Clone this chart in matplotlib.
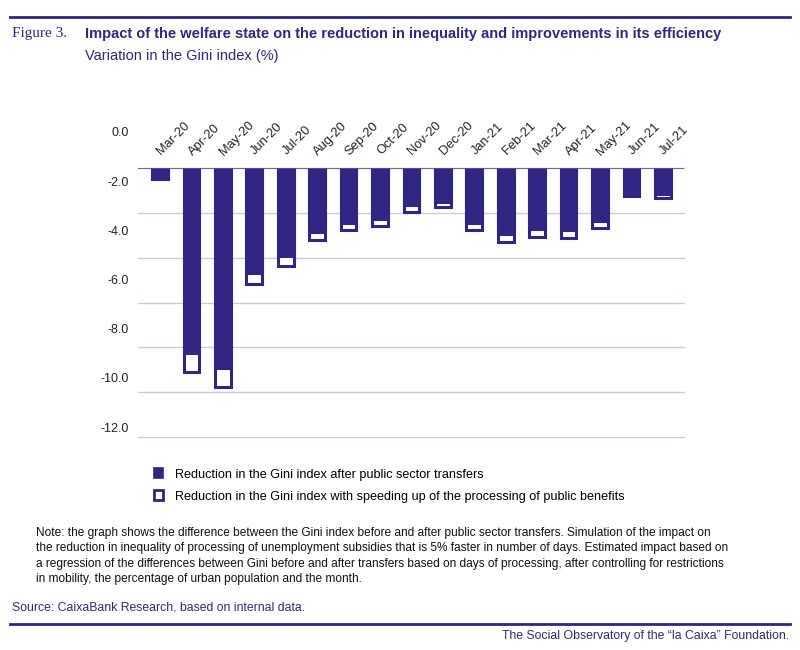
import matplotlib
matplotlib.use("Agg")
from matplotlib import pyplot as plt
from matplotlib.patches import Patch
from matplotlib.transforms import ScaledTranslation

months = ['Mar-20', 'Apr-20', 'May-20', 'Jun-20', 'Jul-20', 'Aug-20', 'Sep-20',
          'Oct-20', 'Nov-20', 'Dec-20', 'Jan-21', 'Feb-21', 'Mar-21', 'Apr-21',
          'May-21', 'Jun-21', 'Jul-21']
after_transfers = [-0.44, -8.26, -8.93, -4.68, -3.92, -2.86, -2.42, -2.27, -1.64,
                   -1.49, -2.42, -2.94, -2.71, -2.77, -2.33, -1.09, -1.12]
with_speedup = [-0.45, -9.08, -9.75, -5.15, -4.35, -3.19, -2.76, -2.58, -1.94,
                -1.73, -2.76, -3.28, -3.04, -3.10, -2.67, -1.24, -1.31]
yticks = [0, -2, -4, -6, -8, -10, -12]

navy = '#2f2782'
txt_navy = '#2d2a7f'
grid_col = '#cdc9e0'
sans = ['Liberation Sans', 'DejaVu Sans']

fig = plt.figure(figsize=(8, 6.5), dpi=100)
ax = fig.add_axes([0.1725, 0.3277, 0.6825, 0.4131])

x = list(range(len(months)))
ax.bar(x, with_speedup, width=0.5, color='white', edgecolor=navy, linewidth=2.2, zorder=2)
ax.bar(x, after_transfers, width=0.5, color=navy, edgecolor=navy, linewidth=2.2, zorder=2)
ax.axhline(0, color='#5b53a6', lw=1.2, zorder=3)

ax.set_xlim(-0.70, 16.67)
ax.set_ylim(-12, 0)
ax.set_yticks(yticks)
ax.set_yticklabels([])
ax.yaxis.grid(True, color=grid_col, lw=1)
for gl in ax.get_ygridlines():
    gl.set_clip_on(False)
ax.set_axisbelow(True)
for s in ax.spines.values():
    s.set_visible(False)
ax.tick_params(axis='y', length=0)
ax.set_xticks([])

# month labels above the zero line, rotated
lab_off = ax.transData + ScaledTranslation(1 / 100, 13 / 100, fig.dpi_scale_trans)
for i, m in zip(x, months):
    ax.text(i, 0, m, transform=lab_off, rotation=45, ha='left', va='baseline',
            rotation_mode='anchor', fontsize=9.3, family=sans, color='#222222',
            clip_on=False)

# y labels sit on their own (slightly offset) scale in the original
for v in yticks:
    ax.text(-0.0165, 1.571 + 1.0996 * v, f'{v:.1f}', transform=ax.get_yaxis_transform(),
            ha='right', va='center', fontsize=9, family=sans,
            color='#222222', clip_on=False)

handles = [Patch(facecolor=navy, edgecolor=navy, lw=1.2),
           Patch(facecolor='white', edgecolor=navy, lw=2)]
fig.legend(handles,
           ['Reduction in the Gini index after public sector transfers',
            'Reduction in the Gini index with speeding up of the processing of public benefits'],
           loc='upper left', bbox_to_anchor=(0.178, 0.297), frameon=False,
           handlelength=0.7, handleheight=0.85, handletextpad=0.95, labelspacing=0.75,
           prop={'family': sans, 'size': 9.1})

# header
fig.add_artist(plt.Line2D([0.012, 0.988], [1 - 17 / 650, 1 - 17 / 650], color=navy, lw=2))
fig.text(0.015, 1 - 34 / 650, 'Figure 3.', family='Liberation Serif', fontsize=11,
         color=txt_navy, va='center')
fig.text(0.106, 1 - 34 / 650,
         'Impact of the welfare state on the reduction in inequality and improvements in its efficiency',
         family=sans, fontsize=10.5, fontweight='bold', color=txt_navy, va='center')
fig.text(0.106, 1 - 56 / 650, 'Variation in the Gini index (%)', family=sans,
         fontsize=10.5, color=txt_navy, va='center')

note = ('Note: the graph shows the difference between the Gini index before and after public sector transfers. Simulation of the impact on\n'
        'the reduction in inequality of processing of unemployment subsidies that is 5% faster in number of days. Estimated impact based on\n'
        'a regression of the differences between Gini before and after transfers based on days of processing, after controlling for restrictions\n'
        'in mobility, the percentage of urban population and the month.')
fig.text(0.045, 1 - 527 / 650, note, family=sans, fontsize=8.55, color='#111111',
         va='top', linespacing=1.38)

fig.text(0.015, 1 - 608 / 650, 'Source: CaixaBank Research, based on internal data.',
         family=sans, fontsize=8.8, color=txt_navy, va='center')
fig.add_artist(plt.Line2D([0.012, 0.988], [1 - 624 / 650, 1 - 624 / 650], color=navy, lw=2))
fig.text(0.987, 1 - 636 / 650, 'The Social Observatory of the \u201cla Caixa\u201d Foundation.',
         family=sans, fontsize=8.8, color=txt_navy, va='center', ha='right')

fig.savefig('out.png', dpi=100)
